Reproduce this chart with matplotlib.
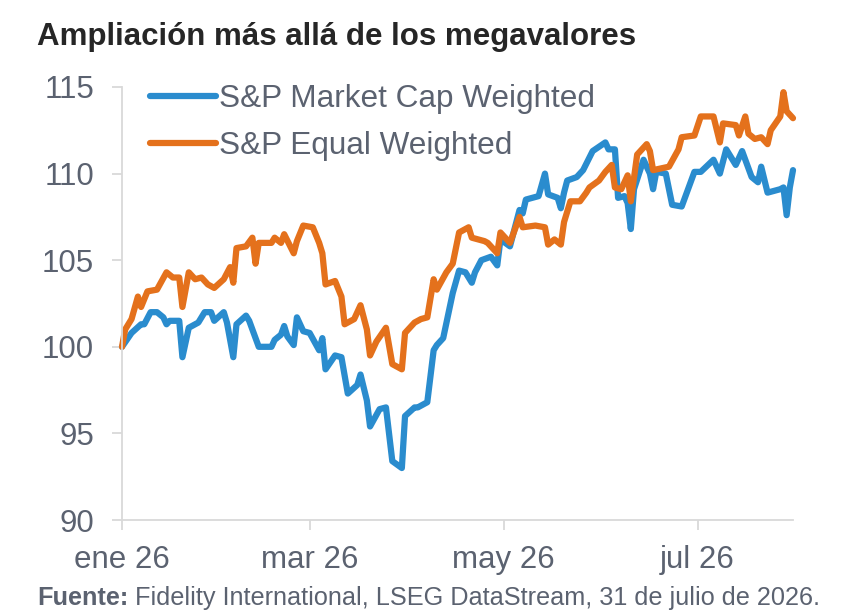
import matplotlib
matplotlib.use("Agg")
import matplotlib.pyplot as plt
import matplotlib.dates as mdates
import pandas as pd

plt.rcParams['font.family'] = ['Liberation Sans', 'DejaVu Sans']

title = "Ampliación más allá de los megavalores"
series_names = ["S&P Market Cap Weighted", "S&P Equal Weighted"]
source_bold = "Fuente:"
source_rest = " Fidelity International, LSEG DataStream, 31 de julio de 2026."

cap_dates = [
    "2026-01-01", "2026-01-04", "2026-01-07", "2026-01-08", "2026-01-10", "2026-01-12",
    "2026-01-14", "2026-01-15", "2026-01-16", "2026-01-19", "2026-01-20", "2026-01-22",
    "2026-01-25", "2026-01-27", "2026-01-29", "2026-01-30", "2026-02-02", "2026-02-03",
    "2026-02-05", "2026-02-06", "2026-02-09", "2026-02-10", "2026-02-13", "2026-02-17",
    "2026-02-18", "2026-02-20", "2026-02-21", "2026-02-22", "2026-02-24", "2026-02-25",
    "2026-02-27", "2026-03-01", "2026-03-04", "2026-03-05", "2026-03-06", "2026-03-09",
    "2026-03-11", "2026-03-13", "2026-03-16", "2026-03-17", "2026-03-19", "2026-03-20",
    "2026-03-23", "2026-03-25", "2026-03-27", "2026-03-30", "2026-03-31", "2026-04-03",
    "2026-04-04", "2026-04-07", "2026-04-09", "2026-04-10", "2026-04-12", "2026-04-15",
    "2026-04-17", "2026-04-19", "2026-04-21", "2026-04-22", "2026-04-24", "2026-04-27",
    "2026-04-29", "2026-04-30", "2026-05-03", "2026-05-06", "2026-05-07", "2026-05-08",
    "2026-05-12", "2026-05-14", "2026-05-15", "2026-05-18", "2026-05-19", "2026-05-20",
    "2026-05-21", "2026-05-24", "2026-05-26", "2026-05-29", "2026-06-02", "2026-06-03",
    "2026-06-05", "2026-06-06", "2026-06-08", "2026-06-09", "2026-06-10", "2026-06-11",
    "2026-06-14", "2026-06-16", "2026-06-17", "2026-06-18", "2026-06-21", "2026-06-23",
    "2026-06-26", "2026-06-28", "2026-06-30", "2026-07-02", "2026-07-06", "2026-07-08",
    "2026-07-10", "2026-07-13", "2026-07-15", "2026-07-18", "2026-07-20", "2026-07-21",
    "2026-07-23", "2026-07-27", "2026-07-28", "2026-07-29", "2026-07-30", "2026-07-31",
]
cap_values = [
    100.0, 100.8, 101.3, 101.3, 102.0, 102.0,
    101.7, 101.3, 101.5, 101.5, 99.4, 101.1,
    101.4, 102.0, 102.0, 101.5, 102.0, 101.4,
    99.4, 101.3, 101.8, 101.5, 100.0, 100.0,
    100.4, 100.7, 101.2, 100.6, 100.1, 101.7,
    100.9, 100.8, 99.8, 100.5, 98.7, 99.5,
    99.4, 97.3, 97.8, 98.4, 96.9, 95.4,
    96.4, 96.5, 93.4, 93.0, 96.0, 96.5,
    96.5, 96.8, 99.8, 100.1, 100.5, 103.1,
    104.4, 104.3, 103.7, 104.3, 105.0, 105.2,
    104.7, 106.2, 105.8, 107.9, 107.7, 108.5,
    108.7, 110.0, 108.8, 108.6, 108.0, 108.9,
    109.6, 109.8, 110.2, 111.3, 111.8, 111.4,
    111.4, 108.6, 108.7, 108.3, 106.8, 109.1,
    110.8, 110.0, 109.1, 110.1, 110.0, 108.2,
    108.1, 109.1, 110.1, 110.1, 110.8, 110.0,
    111.4, 110.5, 111.3, 109.8, 109.5, 110.4,
    108.9, 109.1, 109.2, 107.6, 109.2, 110.2,
]

eq_dates = [
    "2026-01-01", "2026-01-02", "2026-01-04", "2026-01-06", "2026-01-07", "2026-01-09",
    "2026-01-12", "2026-01-15", "2026-01-17", "2026-01-19", "2026-01-20", "2026-01-22",
    "2026-01-24", "2026-01-26", "2026-01-28", "2026-01-30", "2026-02-02", "2026-02-04",
    "2026-02-05", "2026-02-06", "2026-02-09", "2026-02-11", "2026-02-12", "2026-02-13",
    "2026-02-17", "2026-02-18", "2026-02-20", "2026-02-21", "2026-02-24", "2026-02-25",
    "2026-02-27", "2026-03-02", "2026-03-04", "2026-03-05", "2026-03-06", "2026-03-09",
    "2026-03-11", "2026-03-12", "2026-03-15", "2026-03-17", "2026-03-19", "2026-03-20",
    "2026-03-22", "2026-03-25", "2026-03-27", "2026-03-30", "2026-03-31", "2026-04-03",
    "2026-04-05", "2026-04-07", "2026-04-09", "2026-04-10", "2026-04-13", "2026-04-15",
    "2026-04-17", "2026-04-20", "2026-04-21", "2026-04-25", "2026-04-26", "2026-04-29",
    "2026-04-30", "2026-05-03", "2026-05-06", "2026-05-07", "2026-05-11", "2026-05-14",
    "2026-05-15", "2026-05-17", "2026-05-19", "2026-05-20", "2026-05-22", "2026-05-25",
    "2026-05-27", "2026-05-28", "2026-05-31", "2026-06-02", "2026-06-04", "2026-06-05",
    "2026-06-07", "2026-06-09", "2026-06-10", "2026-06-12", "2026-06-15", "2026-06-16",
    "2026-06-17", "2026-06-22", "2026-06-25", "2026-06-26", "2026-06-30", "2026-07-02",
    "2026-07-06", "2026-07-08", "2026-07-09", "2026-07-13", "2026-07-14", "2026-07-16",
    "2026-07-17", "2026-07-19", "2026-07-21", "2026-07-23", "2026-07-24", "2026-07-27",
    "2026-07-28", "2026-07-29", "2026-07-31",
]
eq_values = [
    100.0, 101.0, 101.6, 102.9, 102.3, 103.2,
    103.3, 104.3, 104.0, 104.0, 102.3, 104.3,
    103.9, 104.0, 103.6, 103.4, 103.9, 104.6,
    103.7, 105.7, 105.8, 106.3, 104.8, 106.0,
    106.0, 106.3, 106.0, 106.5, 105.4, 106.1,
    107.0, 106.9, 106.0, 105.4, 103.6, 103.8,
    102.9, 101.3, 101.6, 102.4, 101.0, 99.5,
    100.3, 101.1, 99.0, 98.7, 100.8, 101.4,
    101.6, 101.7, 103.9, 103.3, 104.3, 104.8,
    106.6, 106.9, 106.3, 106.1, 106.0, 105.4,
    106.6, 106.0, 107.5, 106.9, 107.0, 106.9,
    105.9, 106.2, 105.9, 107.2, 108.4, 108.4,
    108.9, 109.2, 109.6, 110.1, 110.5, 109.2,
    109.1, 109.9, 108.4, 111.1, 111.7, 111.3,
    110.2, 110.4, 111.4, 112.1, 112.2, 113.3,
    113.3, 111.8, 112.9, 112.8, 112.2, 113.3,
    112.3, 112.0, 112.1, 111.7, 112.5, 113.3,
    114.7, 113.6, 113.2,
]

x_tick_dates = ["2026-01-01", "2026-03-01", "2026-05-01", "2026-07-01"]
x_tick_labels = ["ene 26", "mar 26", "may 26", "jul 26"]
y_ticks = [90, 95, 100, 105, 110, 115]

blue = "#2A8CCE"
orange = "#E4711C"
text_gray = "#5B6270"
axis_gray = "#D9D9D9"

fig = plt.figure(figsize=(8.47, 6.12), dpi=100)
ax = fig.add_axes([122 / 847, 1 - 520 / 612, (793 - 122) / 847, (520 - 87) / 612])

ax.plot(pd.to_datetime(cap_dates), cap_values, color=blue, lw=4.5,
        solid_joinstyle='round', solid_capstyle='round', label=series_names[0], clip_on=False)
ax.plot(pd.to_datetime(eq_dates), eq_values, color=orange, lw=4.5,
        solid_joinstyle='round', solid_capstyle='round', label=series_names[1], clip_on=False)

ax.set_xlim(pd.Timestamp("2026-01-01"), pd.Timestamp("2026-07-31"))
ax.set_ylim(90, 115)
ax.set_yticks(y_ticks)
ax.set_yticklabels([str(v) for v in y_ticks])
ax.set_xticks(pd.to_datetime(x_tick_dates))
ax.set_xticklabels(x_tick_labels)

for s in ["top", "right"]:
    ax.spines[s].set_visible(False)
for s in ["left", "bottom"]:
    ax.spines[s].set_color(axis_gray)
    ax.spines[s].set_linewidth(1.3)

ax.tick_params(axis='both', colors=axis_gray, labelcolor=text_gray, labelsize=22.5,
               length=7, width=1.3)
ax.tick_params(axis='y', pad=13)
ax.tick_params(axis='x', pad=11)

leg = ax.legend(loc='upper left', bbox_to_anchor=(28 / 671, 1.006), frameon=False,
                fontsize=22.7, handlelength=2.1, handletextpad=0.08,
                labelspacing=0.52, borderpad=0, borderaxespad=0)
for t in leg.get_texts():
    t.set_color(text_gray)
for h in leg.get_lines():
    h.set_linewidth(4.5)
    h.set_solid_capstyle('round')

fig.text(37 / 847, 1 - 45 / 612, title, fontsize=22.5, fontweight='bold',
         color='#262626', ha='left', va='baseline')

t1 = fig.text(37 / 847, 1 - 605 / 612, source_bold, fontsize=18.2, fontweight='bold',
              color=text_gray, ha='left', va='baseline')
fig.canvas.draw()
bb = t1.get_window_extent()
fig.text(bb.x1 / 847, 1 - 605 / 612, source_rest, fontsize=18.2,
         color=text_gray, ha='left', va='baseline')

fig.savefig("out.png", dpi=100)
